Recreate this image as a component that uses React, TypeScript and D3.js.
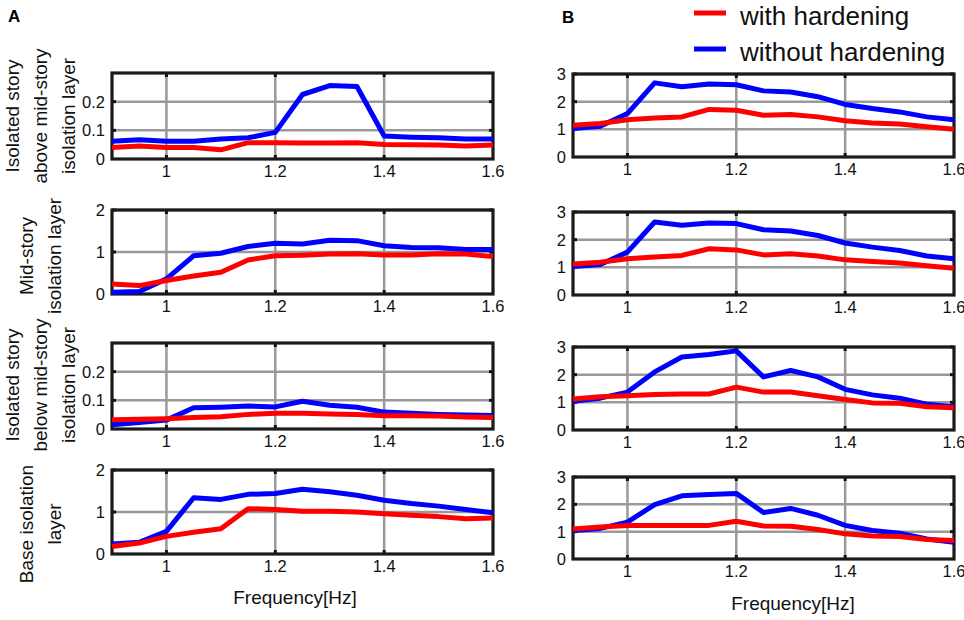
import { useEffect, useRef } from 'react';
import * as d3 from 'd3';

// frequency points [Hz]
const freqs = [0.9, 0.95, 1.0, 1.05, 1.1, 1.15, 1.2, 1.25, 1.3, 1.35, 1.4, 1.45, 1.5, 1.55, 1.6];

// panel A
const aboveWith = [0.040, 0.045, 0.040, 0.040, 0.032, 0.057, 0.057, 0.056, 0.056, 0.057, 0.051, 0.050, 0.049, 0.045, 0.049];
const aboveWithout = [0.062, 0.067, 0.062, 0.062, 0.070, 0.074, 0.093, 0.225, 0.256, 0.253, 0.080, 0.076, 0.074, 0.070, 0.070];
const midWith = [0.24, 0.20, 0.32, 0.43, 0.52, 0.81, 0.91, 0.92, 0.95, 0.96, 0.93, 0.93, 0.96, 0.95, 0.89];
const midWithout = [0.04, 0.06, 0.36, 0.91, 0.97, 1.13, 1.21, 1.19, 1.28, 1.27, 1.15, 1.11, 1.10, 1.06, 1.06];
const belowWith = [0.032, 0.034, 0.036, 0.040, 0.043, 0.051, 0.055, 0.055, 0.052, 0.051, 0.046, 0.046, 0.045, 0.042, 0.040];
const belowWithout = [0.015, 0.023, 0.031, 0.074, 0.076, 0.080, 0.077, 0.097, 0.083, 0.076, 0.059, 0.055, 0.051, 0.049, 0.047];
const baseWith = [0.18, 0.26, 0.42, 0.52, 0.60, 1.08, 1.06, 1.02, 1.02, 1.00, 0.96, 0.92, 0.89, 0.84, 0.86];
const baseWithout = [0.24, 0.28, 0.54, 1.34, 1.30, 1.42, 1.44, 1.54, 1.48, 1.40, 1.28, 1.20, 1.14, 1.06, 0.98];

// panel B
const bAboveWith = [1.15, 1.21, 1.35, 1.41, 1.45, 1.72, 1.69, 1.51, 1.54, 1.45, 1.31, 1.23, 1.19, 1.09, 1.00];
const bAboveWithout = [1.03, 1.11, 1.57, 2.68, 2.54, 2.64, 2.61, 2.39, 2.35, 2.18, 1.90, 1.75, 1.63, 1.45, 1.35];
const bMidWith = [1.12, 1.18, 1.31, 1.37, 1.43, 1.67, 1.63, 1.45, 1.49, 1.41, 1.27, 1.21, 1.16, 1.06, 0.97];
const bMidWithout = [1.03, 1.10, 1.55, 2.64, 2.52, 2.60, 2.58, 2.36, 2.31, 2.15, 1.88, 1.73, 1.61, 1.41, 1.31];
const bBelowWith = [1.12, 1.20, 1.24, 1.28, 1.30, 1.30, 1.55, 1.37, 1.37, 1.24, 1.10, 0.98, 0.97, 0.84, 0.80];
const bBelowWithout = [1.04, 1.15, 1.37, 2.10, 2.64, 2.73, 2.86, 1.92, 2.15, 1.92, 1.47, 1.27, 1.15, 0.93, 0.84];
const bBaseWith = [1.10, 1.17, 1.23, 1.23, 1.23, 1.23, 1.38, 1.21, 1.20, 1.08, 0.92, 0.84, 0.82, 0.71, 0.68];
const bBaseWithout = [1.04, 1.12, 1.35, 1.99, 2.31, 2.36, 2.40, 1.70, 1.85, 1.60, 1.23, 1.04, 0.94, 0.73, 0.61];

// ticks
const xTicks = [1, 1.2, 1.4, 1.6];
const smallTicks = [0, 0.1, 0.2];
const twoTicks = [0, 1, 2];
const threeTicks = [0, 1, 2, 3];

const rowLabels = [
  ['Isolated story', 'above mid-story', 'isolation layer'],
  ['Mid-story', 'isolation layer'],
  ['Isolated story', 'below mid-story', 'isolation layer'],
  ['Base isolation', 'layer'],
];
const legendLabels = ['with hardening', 'without hardening'];

const RED = '#ff0000';
const BLUE = '#0000ff';
const FONT = '"Liberation Sans", Arial, sans-serif';

interface Panel {
  left: number;
  right: number;
  top: number;
  bottom: number;
  yMax: number;
  yTicks: number[];
  with: number[];
  without: number[];
}

const panels: Panel[] = [
  { left: 112, right: 493, top: 73, bottom: 159, yMax: 0.3, yTicks: smallTicks, with: aboveWith, without: aboveWithout },
  { left: 112, right: 493, top: 210, bottom: 294, yMax: 2, yTicks: twoTicks, with: midWith, without: midWithout },
  { left: 112, right: 493, top: 343, bottom: 429, yMax: 0.3, yTicks: smallTicks, with: belowWith, without: belowWithout },
  { left: 112, right: 493, top: 470, bottom: 554, yMax: 2, yTicks: twoTicks, with: baseWith, without: baseWithout },
  { left: 573, right: 954, top: 74, bottom: 157, yMax: 3, yTicks: threeTicks, with: bAboveWith, without: bAboveWithout },
  { left: 573, right: 954, top: 212, bottom: 295, yMax: 3, yTicks: threeTicks, with: bMidWith, without: bMidWithout },
  { left: 573, right: 954, top: 347, bottom: 430, yMax: 3, yTicks: threeTicks, with: bBelowWith, without: bBelowWithout },
  { left: 573, right: 954, top: 477, bottom: 559, yMax: 3, yTicks: threeTicks, with: bBaseWith, without: bBaseWithout },
];

const labelCenters = [116, 256, 385, 524];

export default function App() {
  const svgRef = useRef<SVGSVGElement>(null);

  useEffect(() => {
    if (!svgRef.current) return;
    const svg = d3.select(svgRef.current);
    svg.selectAll('*').remove();

    panels.forEach((p) => {
      const x = d3.scaleLinear().domain([0.9, 1.6]).range([p.left, p.right]);
      const y = d3.scaleLinear().domain([0, p.yMax]).range([p.bottom, p.top]);
      const g = svg.append('g');

      // grid
      const innerX = xTicks.filter((t) => t < 1.6);
      const innerY = p.yTicks.filter((t) => t > 0);
      g.selectAll('.vgrid')
        .data(innerX)
        .join('line')
        .attr('x1', (d) => x(d)).attr('x2', (d) => x(d))
        .attr('y1', p.top).attr('y2', p.bottom)
        .attr('stroke', '#999').attr('stroke-width', 2.5);
      g.selectAll('.hgrid')
        .data(innerY)
        .join('line')
        .attr('x1', p.left).attr('x2', p.right)
        .attr('y1', (d) => y(d)).attr('y2', (d) => y(d))
        .attr('stroke', '#999').attr('stroke-width', 2.5);

      // inward tick marks
      const tickLen = 4;
      innerX.forEach((t) => {
        g.append('line').attr('x1', x(t)).attr('x2', x(t)).attr('y1', p.bottom).attr('y2', p.bottom - tickLen)
          .attr('stroke', '#111').attr('stroke-width', 3);
        g.append('line').attr('x1', x(t)).attr('x2', x(t)).attr('y1', p.top).attr('y2', p.top + tickLen)
          .attr('stroke', '#111').attr('stroke-width', 3);
      });
      innerY.forEach((t) => {
        g.append('line').attr('x1', p.left).attr('x2', p.left + tickLen).attr('y1', y(t)).attr('y2', y(t))
          .attr('stroke', '#111').attr('stroke-width', 3);
        g.append('line').attr('x1', p.right).attr('x2', p.right - tickLen).attr('y1', y(t)).attr('y2', y(t))
          .attr('stroke', '#111').attr('stroke-width', 3);
      });

      // frame
      g.append('rect')
        .attr('x', p.left).attr('y', p.top)
        .attr('width', p.right - p.left).attr('height', p.bottom - p.top)
        .attr('fill', 'none').attr('stroke', '#1a1a1a').attr('stroke-width', 3.2);

      // tick labels
      g.selectAll('.xl')
        .data(xTicks)
        .join('text')
        .attr('x', (d) => x(d))
        .attr('y', p.bottom + 18)
        .attr('text-anchor', 'middle')
        .style('font-family', FONT).style('font-size', '16.5px').style('fill', '#111')
        .text((d) => d3.format('~g')(d));
      g.selectAll('.yl')
        .data(p.yTicks)
        .join('text')
        .attr('x', p.left - 7)
        .attr('y', (d) => y(d))
        .attr('dy', '0.36em')
        .attr('text-anchor', 'end')
        .style('font-family', FONT).style('font-size', '16.5px').style('fill', '#111')
        .text((d) => d3.format('~g')(d));

      // series
      const line = d3.line<number>()
        .x((_, i) => x(freqs[i]))
        .y((d) => y(d));
      g.append('path').datum(p.without)
        .attr('d', line).attr('fill', 'none').attr('stroke', BLUE)
        .attr('stroke-width', 5).attr('stroke-linejoin', 'round');
      g.append('path').datum(p.with)
        .attr('d', line).attr('fill', 'none').attr('stroke', RED)
        .attr('stroke-width', 5).attr('stroke-linejoin', 'round');
    });

    // row labels
    rowLabels.forEach((lines, r) => {
      const cy = labelCenters[r];
      const n = lines.length;
      lines.forEach((txt, i) => {
        const cx = 40 + (i - (n - 1) / 2) * 28;
        svg.append('text')
          .attr('transform', `translate(${cx},${cy}) rotate(-90)`)
          .attr('text-anchor', 'middle')
          .attr('dy', '0.35em')
          .style('font-family', FONT).style('font-size', '19px').style('fill', '#111')
          .text(txt);
      });
    });

    // axis titles
    [[295, 604], [793, 610]].forEach(([cx, cy]) => {
      svg.append('text')
        .attr('x', cx).attr('y', cy)
        .attr('text-anchor', 'middle')
        .style('font-family', FONT).style('font-size', '19px').style('fill', '#111')
        .text('Frequency[Hz]');
    });

    // panel letters
    svg.append('text').attr('x', 8).attr('y', 22)
      .style('font-family', FONT).style('font-size', '17px').style('font-weight', 'bold').text('A');
    svg.append('text').attr('x', 562).attr('y', 23)
      .style('font-family', FONT).style('font-size', '17px').style('font-weight', 'bold').text('B');

    // legend
    const legendColors = [RED, BLUE];
    legendLabels.forEach((lbl, i) => {
      const ly = 13 + i * 36;
      svg.append('line')
        .attr('x1', 694).attr('x2', 726).attr('y1', ly).attr('y2', ly)
        .attr('stroke', legendColors[i]).attr('stroke-width', 5);
      svg.append('text')
        .attr('x', 740).attr('y', ly + 12)
        .style('font-family', FONT).style('font-size', '26px').style('fill', '#111')
        .text(lbl);
    });
  }, []);

  return (
    <svg
      ref={svgRef}
      width={964}
      height={620}
      viewBox="0 0 964 620"
      style={{ position: 'absolute', left: 0, top: 0, background: '#fff' }}
    />
  );
}
